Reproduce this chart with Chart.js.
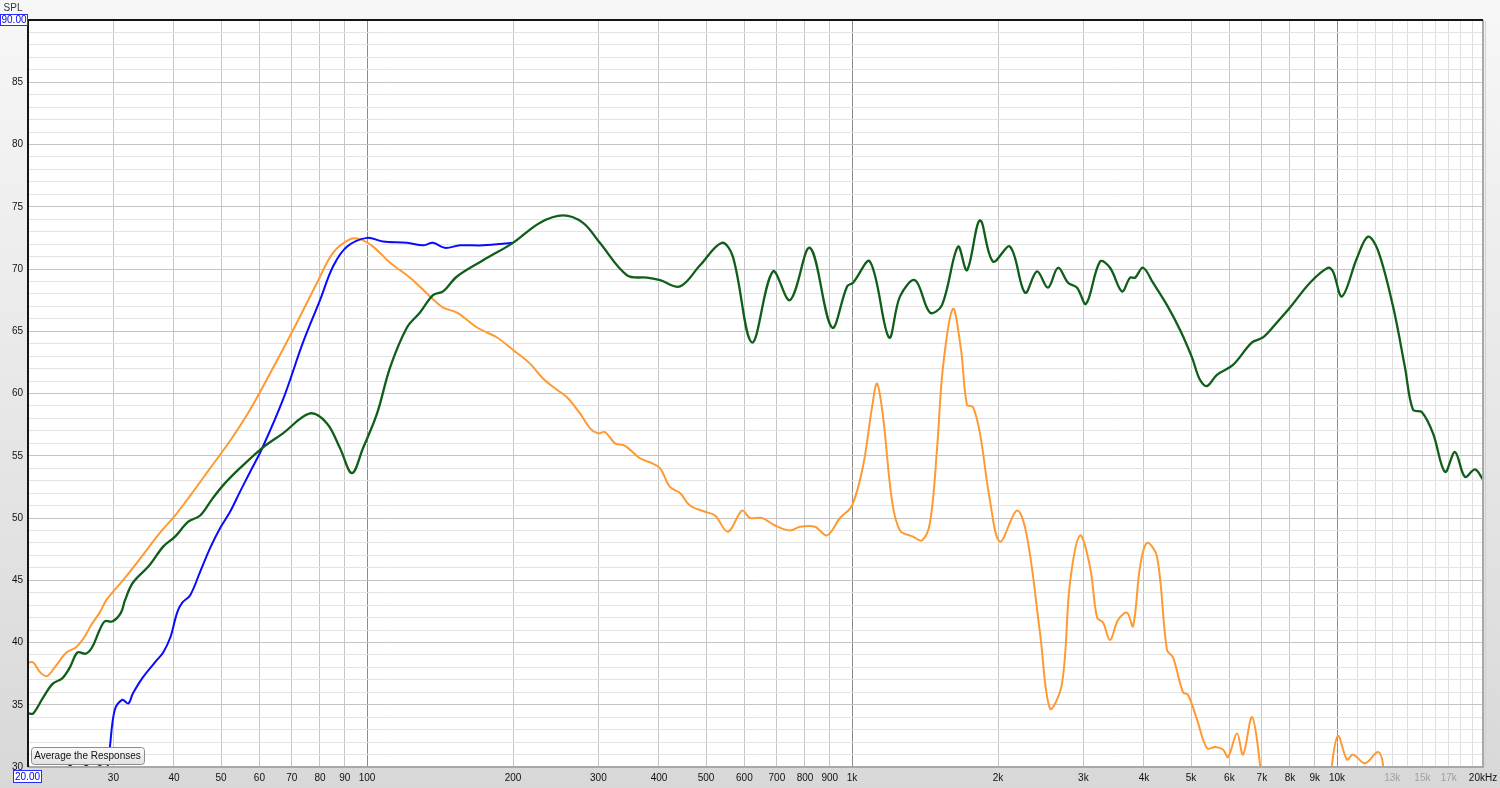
<!DOCTYPE html>
<html>
<head>
<meta charset="utf-8">
<script src="https://cdn.jsdelivr.net/npm/chart.js@4.4.1/dist/chart.umd.min.js"></script>
<style>
  html, body { margin: 0; padding: 0; background: #f4f4f4; }
  #wrap { position: relative; width: 1500px; height: 788px; }
</style>
</head>
<body>
<div id="wrap"><canvas id="splChart"></canvas></div>
<script>
// green trace (Hz / dB SPL)
const greenFreq = [20, 20.5, 21.5, 22.5, 23.5, 24.4, 25.3, 26.3, 27.1, 28.1, 28.8, 29.9, 31.1, 31.7, 32.9, 35.6, 38, 40.2, 42.8, 45.3,
  47.9, 50.7, 54.7, 60.7, 67.1, 76.3, 82.7, 88, 93.1, 98.1, 104.9, 111.6, 120.9, 128.6, 136.8, 143.5, 153.3, 173.5, 200, 227,
  253.7, 278.9, 302, 343.6, 378, 402, 442, 486, 539, 568, 622, 687, 745, 819, 909, 977, 1005, 1089, 1192, 1256,
  1349, 1448, 1533, 1654, 1726, 1836, 1953, 2117, 2274, 2407, 2536, 2659, 2789, 2911, 3038, 3246, 3404, 3603, 3743, 3833,
  3981, 4174, 4461, 4748, 5023, 5217, 5395, 5655, 6105, 6679, 7038, 7518, 8000, 8798, 9582, 9812, 10240, 11000, 11586, 12147,
  13047, 13808, 14342, 14970, 15776, 16700, 17510, 18360, 19250, 20000];
const greenSpl = [34.3, 34.3, 35.6, 36.7, 37.1, 38.0, 39.2, 39.1, 39.6, 41.0, 41.7, 41.7, 42.4, 43.4, 44.8, 46.2, 47.7, 48.5, 49.7, 50.2,
  51.5, 52.7, 54.0, 55.6, 56.8, 58.4, 57.6, 55.6, 53.6, 55.6, 58.4, 62.1, 65.3, 66.5, 67.9, 68.2, 69.4, 70.7, 72.1, 73.7,
  74.3, 73.7, 72.1, 69.5, 69.3, 69.1, 68.6, 70.3, 72.1, 71.0, 64.1, 69.8, 67.5, 71.7, 65.3, 68.6, 68.9, 70.6, 64.5, 67.8,
  69.1, 66.5, 67.1, 71.8, 69.9, 73.9, 70.6, 71.8, 68.1, 69.8, 68.5, 70.1, 68.9, 68.5, 67.2, 70.6, 70.1, 68.2, 69.3, 69.3,
  70.1, 68.9, 67.1, 65.1, 62.9, 61.1, 60.6, 61.5, 62.3, 64.1, 64.5, 65.7, 66.9, 68.9, 70.1, 69.8, 67.8, 70.9, 72.6, 71.5,
  67.0, 62.1, 58.7, 58.5, 56.8, 53.7, 55.3, 53.3, 53.9, 53.1];

// blue trace
const blueFreq = [20, 21, 22.3, 23.5, 24.4, 25.3, 26.4, 27.2, 28.1, 28.7, 29.2, 29.5, 30.2, 31.3, 32.2, 32.9, 34.5, 36.9, 38, 39.3,
  40.6, 41.6, 43.2, 45.3, 47.5, 49.8, 52.2, 54.7, 57.4, 60.8, 67.1, 73.8, 80, 85.1, 91, 100, 107.9, 120.9, 130.4, 136.8,
  144.8, 155.5, 173.5, 200];
const blueSpl = [30.1, 29.3, 29.6, 29.4, 30.1, 29.6, 30.1, 29.6, 30.1, 29.8, 30.1, 31.6, 34.6, 35.4, 35.1, 35.9, 37.2, 38.6, 39.2, 40.4,
  42.4, 43.2, 43.8, 45.7, 47.6, 49.2, 50.5, 52.1, 53.7, 55.6, 59.5, 64.1, 67.5, 70.2, 71.8, 72.5, 72.2, 72.1, 71.9, 72.1,
  71.7, 71.9, 71.9, 72.1];

// orange trace
const orangeFreq = [20, 20.5, 21.2, 21.9, 22.7, 24, 25.1, 26.1, 27, 28.1, 29, 30, 31.7, 34, 37.4, 40.2, 43.2, 47.5, 52.2, 57.4,
  63.1, 70.4, 78.9, 85.1, 92.3, 96.7, 102.9, 111.6, 122.7, 134.9, 143.5, 153.3, 168.6, 185.4, 200, 216.8, 230.6, 246.4, 258.4, 274.9,
  288.3, 299.3, 309.5, 324.6, 340.4, 365.5, 386.9, 401.9, 421.4, 441.9, 463.4, 497.7, 521.8, 555.1, 593.2, 616.2, 652.2, 693.8, 745.2, 781.2,
  838.9, 888, 944.7, 1000, 1053, 1100, 1126, 1159, 1209, 1256, 1336, 1394, 1448, 1497, 1540, 1615, 1678, 1726, 1776, 1836,
  1925, 2019, 2189, 2295, 2441, 2560, 2710, 2815, 2952, 3095, 3201, 3293, 3404, 3536, 3690, 3796, 3926, 4058, 4255, 4461,
  4591, 4814, 4930, 5145, 5395, 5604, 5821, 5962, 6220, 6400, 6679, 6938, 7200, 9400, 9765, 10049, 10487, 10790, 11420, 12147,
  12438, 12800];
const orangeSpl = [38.4, 38.4, 37.6, 37.3, 38.0, 39.2, 39.6, 40.4, 41.4, 42.4, 43.4, 44.1, 45.2, 46.7, 48.8, 50.2, 51.8, 54.0, 56.2, 58.7,
  61.6, 65.1, 68.9, 71.3, 72.4, 72.4, 71.8, 70.5, 69.3, 67.8, 66.9, 66.5, 65.3, 64.5, 63.5, 62.4, 61.2, 60.3, 59.7, 58.4,
  57.2, 56.8, 56.9, 56.0, 55.8, 54.8, 54.4, 54.0, 52.5, 52.0, 51.0, 50.5, 50.2, 48.9, 50.6, 50.0, 50.0, 49.4, 49.0, 49.3,
  49.3, 48.6, 50.0, 51.0, 54.1, 58.9, 60.8, 58.1, 51.4, 49.0, 48.5, 48.2, 49.6, 55.5, 62.1, 66.8, 63.5, 59.1, 58.9, 56.8,
  51.4, 48.1, 50.6, 48.5, 40.8, 34.7, 36.7, 44.8, 48.6, 46.1, 42.0, 41.6, 40.2, 41.8, 42.4, 41.3, 46.1, 48.0, 46.9, 39.4,
  38.8, 36.0, 35.8, 33.8, 31.5, 31.6, 31.4, 30.8, 32.7, 31.0, 34.0, 30.2, 24, 24, 30.2, 32.5, 30.6, 31.0, 30.3, 31.2,
  30.2, 24];

// axis ticks
const xTickValues = [20, 30, 40, 50, 60, 70, 80, 90, 100, 200, 300, 400, 500, 600, 700, 800, 900, 1000, 2000, 3000,
  4000, 5000, 6000, 7000, 8000, 9000, 10000, 11000, 12000, 13000, 14000, 15000, 16000, 17000, 18000, 19000, 20000];
const xTickLabels = ['', '30', '40', '50', '60', '70', '80', '90', '100', '200', '300', '400', '500', '600', '700', '800', '900', '1k', '2k', '3k',
  '4k', '5k', '6k', '7k', '8k', '9k', '10k', '', '', '13k', '', '15k', '', '17k', '', '', '20kHz'];
const xGreyLabels = ['13k', '15k', '17k'];
const yTickValues = [];
for (let v = 30; v <= 90; v++) yTickValues.push(v);

const toPoints = (xs, ys) => xs.map((x, i) => ({ x: x, y: ys[i] }));

const framePlugin = {
    id: 'frame',
    beforeDraw(chart) {
        const { ctx, chartArea: a, width, height } = chart;
        ctx.save();
        const g = ctx.createLinearGradient(0, 0, 0, height);
        g.addColorStop(0, '#f7f7f7');
        g.addColorStop(1, '#d8d8d8');
        ctx.fillStyle = g;
        ctx.fillRect(0, 0, width, height);
        ctx.fillStyle = '#ffffff';
        ctx.fillRect(a.left, a.top, a.right - a.left, a.bottom - a.top);
        ctx.restore();
    },
    afterDraw(chart) {
        const { ctx, chartArea: a } = chart;
        ctx.save();
        // frame
        ctx.lineWidth = 2;
        ctx.strokeStyle = '#a8a8a8';
        ctx.beginPath();
        ctx.moveTo(a.right, a.top); ctx.lineTo(a.right, a.bottom); ctx.lineTo(a.left, a.bottom);
        ctx.stroke();
        ctx.strokeStyle = '#d2d2d2';
        ctx.lineWidth = 1;
        ctx.beginPath();
        ctx.moveTo(a.right + 2.5, a.top + 1); ctx.lineTo(a.right + 2.5, a.bottom);
        ctx.stroke();
        ctx.lineWidth = 2;
        ctx.strokeStyle = '#151515';
        ctx.beginPath();
        ctx.moveTo(a.left, a.bottom); ctx.lineTo(a.left, a.top); ctx.lineTo(a.right, a.top);
        ctx.stroke();

        ctx.font = "10px 'Liberation Sans'";
        ctx.textAlign = 'center';
        ctx.textBaseline = 'middle';
        ctx.fillStyle = '#333';
        ctx.fillText('SPL', 13, 8);

        // blue value boxes
        const box = (x, y, w, h, text) => {
            ctx.fillStyle = '#ffffff';
            ctx.fillRect(x, y, w, h);
            ctx.strokeStyle = '#2a2aff';
            ctx.lineWidth = 1;
            ctx.strokeRect(x + 0.5, y + 0.5, w - 1, h - 1);
            ctx.fillStyle = '#0000ee';
            ctx.fillText(text, x + w / 2, y + h / 2 + 0.5);
        };
        box(0, 14, 28, 12, '90.00');
        box(13, 770, 29, 13, '20.00');

        // button
        const bx = 31, by = 747, bw = 113, bh = 17;
        const bg = ctx.createLinearGradient(0, by, 0, by + bh);
        bg.addColorStop(0, '#fbfbfb');
        bg.addColorStop(1, '#e2e2e2');
        ctx.fillStyle = bg;
        ctx.beginPath();
        ctx.roundRect(bx + 0.5, by + 0.5, bw, bh, 3);
        ctx.fill();
        ctx.strokeStyle = '#8c8c8c';
        ctx.stroke();
        ctx.fillStyle = '#111';
        ctx.fillText('Average the Responses', bx + bw / 2, by + bh / 2 + 1);
        ctx.restore();
    }
};

Chart.defaults.font.family = "'Liberation Sans', Arial, sans-serif";
Chart.defaults.font.size = 10;

new Chart(document.getElementById('splChart'), {
    type: 'line',
    data: {
        datasets: [
            { label: 'green', data: toPoints(greenFreq, greenSpl), borderColor: '#0f5e19', borderWidth: 2.3 },
            { label: 'blue', data: toPoints(blueFreq, blueSpl), borderColor: '#0a0aff', borderWidth: 2 },
            { label: 'orange', data: toPoints(orangeFreq, orangeSpl), borderColor: '#ff9a33', borderWidth: 2 }
        ].map(d => Object.assign(d, { pointRadius: 0, tension: 0.35, fill: false, clip: 1 }))
    },
    options: {
        responsive: true,
        maintainAspectRatio: false,
        animation: false,
        events: [],
        layout: { padding: { top: 20, right: 17, bottom: 0, left: 0 } },
        plugins: { legend: { display: false }, tooltip: { enabled: false } },
        scales: {
            x: {
                type: 'logarithmic',
                min: 20,
                max: 20000,
                afterBuildTicks: s => { s.ticks = xTickValues.map(v => ({ value: v })); },
                afterFit: s => { s.height = 21; s.paddingLeft = 0; s.paddingRight = 0; },
                border: { display: false },
                grid: {
                    drawTicks: false,
                    color: c => {
                        const v = c.tick ? c.tick.value : 0;
                        if (v === 100 || v === 1000 || v === 10000) return '#8c8c8c';
                        if (v > 10000) return '#dedede';
                        return '#c6c6c6';
                    }
                },
                ticks: {
                    autoSkip: false,
                    maxRotation: 0,
                    minRotation: 0,
                    padding: 5,
                    color: c => xGreyLabels.includes(xTickLabels[c.index]) ? '#a0a0a0' : '#111',
                    callback: (v, i) => xTickLabels[i]
                }
            },
            y: {
                min: 30,
                max: 90,
                afterBuildTicks: s => { s.ticks = yTickValues.map(v => ({ value: v })); },
                afterFit: s => { s.width = 28; s.paddingTop = 0; s.paddingBottom = 0; },
                border: { display: false },
                grid: {
                    drawTicks: false,
                    color: c => (c.tick && c.tick.value % 5 === 0) ? '#c4c4c4' : '#e4e4e4'
                },
                ticks: {
                    autoSkip: false,
                    padding: 5,
                    color: '#111',
                    callback: v => (v % 5 === 0 && v < 90) ? String(v) : ''
                }
            }
        }
    },
    plugins: [framePlugin]
});
</script>
</body>
</html>
